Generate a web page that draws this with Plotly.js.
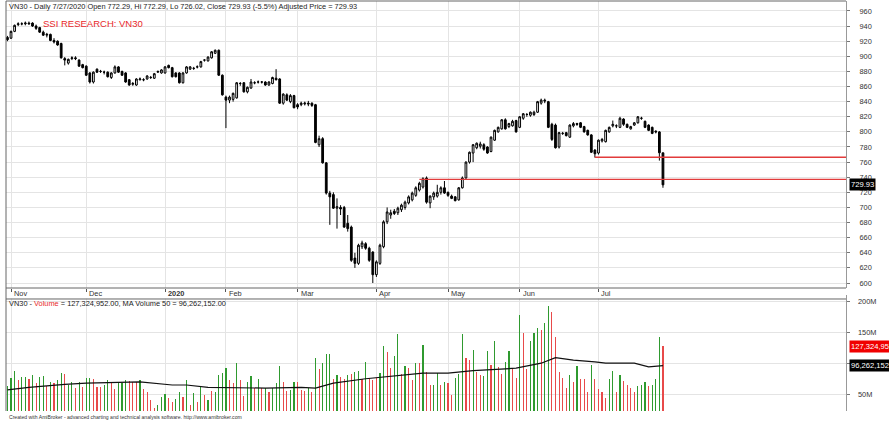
<!DOCTYPE html>
<html><head><meta charset="utf-8">
<script src="https://cdn.plot.ly/plotly-3.0.1.min.js"></script>
<style>html,body{margin:0;padding:0;background:#fff;overflow:hidden}#chart{width:889px;height:423px}</style>
</head><body><div id="chart"></div>
<script>
// ---------- DATA ----------
const tradingDays = {
  '2019-10': [31],
  '2019-11': [1,4,5,6,7,8,11,12,13,14,15,18,19,20,21,22,25,26,27,28,29],
  '2019-12': [2,3,4,5,6,9,10,11,12,13,16,17,18,19,20,23,24,25,26,27,30,31],
  '2020-01': [2,3,6,7,8,9,10,13,14,15,16,17,20,21,22,30,31],
  '2020-02': [3,4,5,6,7,10,11,12,13,14,17,18,19,20,21,24,25,26,27,28],
  '2020-03': [2,3,4,5,6,9,10,11,12,13,16,17,18,19,20,23,24,25,26,27,30,31],
  '2020-04': [1,3,6,7,8,9,10,13,14,15,16,17,20,21,22,23,24,27,28,29],
  '2020-05': [4,5,6,7,8,11,12,13,14,15,18,19,20,21,22,25,26,27,28,29],
  '2020-06': [1,2,3,4,5,8,9,10,11,12,15,16,17,18,19,22,23,24,25,26,29,30],
  '2020-07': [1,2,3,6,7,8,9,10,13,14,15,16,17,20,21,22,23,24,27]
};
const openP = [
 925,924,933,942,943,943,944,944,940,938,932,928,929,921,920,917,897,891,897,898,895,889,
 887,878,866,883,880,879,879,872,878,886,880,878,869,863,862,869,869,870,872,871,879,878,
 878,888,885,878,878,865,878,883,884,886,886,895,894,898,904,908,875,
 846,842,843,845,864,865,853,858,865,866,866,866,862,864,871,870,838,849,840,848,
 836,836,837,838,838,836,783,791,759,719,717,699,700,700,679,674,633,626,648,652,646,641,
 611,626,648,681,690,695,693,697,700,706,710,716,723,727,739,706,714,715,720,726,
 720,715,714,710,726,739,760,772,779,781,783,780,774,789,800,804,816,807,808,815,
 806,818,823,822,823,826,838,842,840,810,809,780,798,799,793,808,811,812,807,802,796,776,
 772,788,787,800,808,808,806,817,810,804,809,812,818,814,809,806,801,800,772.29
];
const highP = [
 927,934,942,945,945,946,946,945,942,939,934,931,930,924,921,918,899,897,900,900,896,890,
 888,879,880,884,882,881,880,879,888,887,881,879,870,866,871,872,871,875,874,878,881,883,
 887,889,886,879,879,879,887,887,886,888,894,896,900,907,909,909,876,
 848,848,852,866,866,866,860,870,867,868,867,867,867,873,883,871,851,851,850,849,
 838,840,840,841,839,837,795,793,760,722,720,712,703,702,690,676,640,652,656,654,648,642,
 630,652,683,700,697,698,701,705,709,716,721,728,734,740,741,716,721,730,728,735,
 721,717,715,727,741,761,774,784,786,787,785,781,794,803,807,817,818,812,816,816,
 821,825,825,827,828,841,844,844,841,812,811,800,800,800,810,813,812,813,808,803,797,777,
 790,792,803,807,815,810,820,818,811,808,813,821,820,815,810,807,802,801,772.29
];
const lowP = [
 920,923,932,940,941,941,942,939,935,931,927,925,920,917,914,897,888,889,895,895,886,884,
 874,864,864,878,878,876,872,870,877,878,874,865,861,861,861,868,867,869,870,870,878,877,
 877,884,872,872,864,864,877,882,882,884,885,893,893,897,903,874,848,
 805,838,840,844,861,852,851,857,863,864,864,861,861,863,868,837,836,841,838,831,
 830,834,835,834,833,785,780,758,717,677,698,672,690,673,668,628,620,624,645,644,628,600,
 608,624,646,678,685,690,690,694,697,704,708,714,721,725,705,699,710,713,717,718,
 714,711,708,709,725,738,758,760,777,778,775,771,773,788,799,803,803,805,807,799,
 805,816,820,820,821,825,836,838,805,788,778,778,796,794,792,806,808,805,799,795,772,766,
 770,786,786,799,806,805,805,808,805,803,808,811,816,805,801,797,798,762,726.02
];
const closeP = [
 922,933,941,943,943,944,943,940,937,932,928,929,921,919,915,898,895,896,898,897,887,885,
 875,866,879,879,880,879,873,878,886,879,875,866,862,864,870,870,869,874,872,877,880,882,
 886,885,873,873,865,878,886,886,884,886,893,895,899,906,908,875,849,
 842,846,851,865,864,853,859,866,865,866,866,862,866,872,869,838,850,842,848,832,
 833,838,838,837,835,786,791,759,719,714,699,701,698,674,672,630,626,650,653,646,630,611,
 628,650,681,694,693,692,699,703,707,714,719,726,732,738,707,715,719,720,726,719,
 716,712,709,726,739,760,773,783,785,784,777,772,793,802,806,816,804,811,814,800,
 820,824,823,826,826,840,842,841,806,790,779,799,798,795,809,811,810,806,800,796,773,771,
 789,790,802,806,810,808,818,810,806,807,812,820,818,806,802,798,800,772.4,729.93
];
// volume, millions
const volumeM = [
 63,77,88,73,78,78,75,81,68,78,79,63,70,68,73,84,83,65,69,60,69,62,
 77,77,75,62,61,65,73,68,58,68,68,73,71,69,69,73,58,53,41,28,33,45,
 50,44,38,42,54,46,73,33,52,37,63,49,41,56,54,81,85,
 92,73,68,100,73,47,70,79,60,74,60,60,54,60,68,95,70,56,57,70,
 70,57,56,60,54,108,91,101,115,115,75,81,78,74,81,83,86,88,74,102,77,73,
 76,85,128,118,92,112,147,83,95,92,73,101,101,129,86,65,65,84,65,70,
 68,49,77,83,147,108,105,122,86,81,80,120,97,136,94,83,102,120,93,77,
 177,148,90,136,148,156,153,164,192,183,142,86,76,60,81,69,95,75,75,54,97,75,
 58,54,44,75,87,53,81,71,65,60,53,64,65,69,64,65,74,142,127.324952
];
const volumeDir =
 "gggrggrgrg"+"grgrggrggr"+"grggrrrggr"+"rgggrrrgrr"+"rrgggrrggr"+"grgrgrgrgg"+
 "ggrrgrrggr"+"grgrgggrrg"+"grrrgrgrgg"+"grgrrgrggr"+"grrrggrrgg"+"rgrrgrgrrg"+"grgr"+
 "rgggrrgrrg"+"grgrrggrrg"+"rrgggrggrr"+"rrrgrgrrrg"+"rrrrggrgrr"+"rrgggrgggr";
// 50-day MA of volume, read at selected bars (bar number, millions)
const maBar = [0,6,16,22,37,40,46,50,56,72,82,86,91,100,110,116,123,130,142,149,153,158,164,167,175,179,183];
const maVolM = [57,61,66,68,70,68,65,65,61,60,61,60,68,75,81,84,84,88,92,100,109,105,102,100,100,94,96.262152];
// horizontal levels drawn on the chart
const levelFrom = ['2020-04-20','2020-06-30'];
const levelValue = [737.2,766.4];
// axis labels
const monthTickDates = ['2019-11-01','2019-12-02','2020-01-02','2020-02-03','2020-03-02','2020-04-01','2020-05-04','2020-06-01','2020-07-01'];
const monthTickText = ['Nov','Dec','<b>2020</b>','Feb','Mar','Apr','May','Jun','Jul'];
const priceTicks = [600,620,640,660,680,700,720,740,760,780,800,820,840,860,880,900,920,940,960];
const volTicks = [50,100,150,200];
const volTickText = ['50M','100M','150M','200M'];
const headerText = 'VN30 - Daily 7/27/2020 Open 772.29, Hi 772.29, Lo 726.02, Close 729.93 (-5.5%) Adjusted Price = 729.93';
const titleText = 'SSI RESEARCH: VN30';
const volHeader = 'VN30 - <span style="color:#e8282a">Volume</span> = 127,324,952.00, MA Volume 50 = 96,262,152.00';
const creditText = 'Created with AmiBroker - advanced charting and technical analysis software. http://www.amibroker.com';

// ---------- BUILD ----------
const dates = [];
Object.keys(tradingDays).forEach(m => tradingDays[m].forEach(d => dates.push(m + '-' + String(d).padStart(2,'0'))));
const idx = dates.map((d,i)=>i);
const last = dates.length - 1;
const xMax = 234.1, xMin = -0.4;
const FONT = 'Liberation Sans, Arial, sans-serif';
const FS = 7.4;
const GREEN = '#2f9a2f', RED = '#e84a4a';
const VOL_RANGE = [23.15, 210], VOL_DOMAIN = [0, 0.2834];

const traces = [];
traces.push({
  type:'candlestick', x: idx, open: openP, high: highP, low: lowP, close: closeP,
  xaxis:'x', yaxis:'y', whiskerwidth:0,
  increasing:{line:{color:'#000',width:1}, fillcolor:'#ffffff'},
  decreasing:{line:{color:'#000',width:1}, fillcolor:'#000000'},
  hoverinfo:'skip', showlegend:false
});
levelFrom.forEach((d,k)=>{
  traces.push({type:'scatter', mode:'lines', x:[dates.indexOf(d), xMax], y:[levelValue[k], levelValue[k]],
    xaxis:'x', yaxis:'y', line:{color:'#e23b3b', width:1.3}, hoverinfo:'skip', showlegend:false});
});
traces.push({
  type:'bar', x: idx, y: volumeM, xaxis:'x2', yaxis:'y2', width:0.32,
  marker:{color: volumeDir.split('').map(c=> c==='g'?GREEN:RED), line:{width:0}},
  hoverinfo:'skip', showlegend:false
});
traces.push({type:'scatter', mode:'lines', x: maBar, y: maVolM, xaxis:'x2', yaxis:'y2',
  line:{color:'#111', width:1.2}, hoverinfo:'skip', showlegend:false});

const tickIdx = monthTickDates.map(d=>dates.indexOf(d));
const annotations = [];
tickIdx.forEach((ti,k)=>annotations.push({x:ti, y:0.2878, xref:'x', yref:'paper', text:monthTickText[k],
  showarrow:false, xanchor:'left', yanchor:'middle', xshift:1, font:{family:FONT,size:FS,color:'#333'}}));
// volume axis labels, placed on the paper at the value's height on the volume scale
volTicks.forEach((v,k)=>{
  const frac = VOL_DOMAIN[0] + (v - VOL_RANGE[0]) / (VOL_RANGE[1] - VOL_RANGE[0]) * (VOL_DOMAIN[1] - VOL_DOMAIN[0]);
  annotations.push({x:1, y:frac, xref:'paper', yref:'paper', text:volTickText[k], showarrow:false,
    xanchor:'left', yanchor:'middle', xshift:10, font:{family:FONT,size:FS,color:'#333'}});
});
annotations.push({x:0, y:0.9878, xref:'paper', yref:'paper', text:headerText, showarrow:false,
  xanchor:'left', yanchor:'middle', xshift:1, font:{family:FONT,size:FS,color:'#222'}});
annotations.push({x:0, y:0.946, xref:'paper', yref:'paper', text:titleText, showarrow:false,
  xanchor:'left', yanchor:'middle', xshift:35, font:{family:FONT,size:9.5,color:'#e8282a'}});
annotations.push({x:0, y:0.2622, xref:'paper', yref:'paper', text:volHeader, showarrow:false,
  xanchor:'left', yanchor:'middle', xshift:1, font:{family:FONT,size:FS,color:'#222'}});
annotations.push({x:0, y:-0.0146, xref:'paper', yref:'paper', text:creditText, showarrow:false,
  xanchor:'left', yanchor:'middle', xshift:1, font:{family:FONT,size:5.1,color:'#333'}});
annotations.push({x:1, y:closeP[last], xref:'paper', yref:'y', text:closeP[last].toFixed(2), showarrow:false,
  xanchor:'left', yanchor:'middle', xshift:3, bgcolor:'#000', borderpad:1, font:{family:FONT,size:7.6,color:'#fff'}});
annotations.push({x:1, y:volumeM[last], xref:'paper', yref:'y2', text:Math.round(volumeM[last]*1e6).toLocaleString('en-US'), showarrow:false,
  xanchor:'left', yanchor:'middle', xshift:3, bgcolor:'#f00000', borderpad:1, font:{family:FONT,size:7.6,color:'#fff'}});
annotations.push({x:1, y:maVolM[maVolM.length-1], xref:'paper', yref:'y2', text:Math.round(maVolM[maVolM.length-1]*1e6).toLocaleString('en-US'), showarrow:false,
  xanchor:'left', yanchor:'middle', xshift:3, bgcolor:'#000', borderpad:1, font:{family:FONT,size:7.6,color:'#fff'}});

const shapes = [
  {type:'rect', xref:'paper', yref:'paper', x0:0.001, x1:0.999, y0:0.2745, y1:0.2836, fillcolor:'#fff', line:{width:0}, layer:'above'},
  {type:'line', xref:'paper', yref:'paper', x0:0, x1:1, y0:0.3, y1:0.3, line:{color:'#666',width:1}},
  {type:'line', xref:'paper', yref:'paper', x0:0, x1:1, y0:0.2732, y1:0.2732, line:{color:'#666',width:1}},
  {type:'line', xref:'paper', yref:'paper', x0:0, x1:0, y0:0, y1:1, line:{color:'#666',width:1}},
  {type:'line', xref:'paper', yref:'paper', x0:0, x1:1, y0:1, y1:1, line:{color:'#666',width:1}}
];

const layout = {
  width:889, height:423, paper_bgcolor:'#fff', plot_bgcolor:'#fff',
  margin:{l:6, r:43, t:1, b:12}, showlegend:false, dragmode:false, bargap:0,
  font:{family:FONT, size:FS, color:'#333'},
  xaxis:{domain:[0,1], anchor:'y', range:[xMin,xMax], tickvals:tickIdx, showticklabels:false,
    ticks:'outside', ticklen:3, tickcolor:'#555', showgrid:true, gridcolor:'#e4e4e4', gridwidth:1,
    zeroline:false, showline:false, rangeslider:{visible:false}, fixedrange:true},
  xaxis2:{domain:[0,1], anchor:'y2', range:[xMin,xMax], tickvals:tickIdx, showticklabels:false,
    ticks:'', showgrid:true, gridcolor:'#e4e4e4', zeroline:false, showline:false, fixedrange:true},
  yaxis:{domain:[0.3,1], range:[593.4,973.2], side:'right', tickvals:priceTicks, ticks:'outside', ticklen:3,
    tickcolor:'#777', showline:true, linecolor:'#999', linewidth:1, showgrid:true, gridcolor:'#e4e4e4',
    zeroline:false, tickfont:{family:FONT,size:FS,color:'#333'}, ticklabelstandoff:8, fixedrange:true},
  yaxis2:{domain:VOL_DOMAIN, range:VOL_RANGE, side:'right', anchor:'x2', tickvals:volTicks, showticklabels:false,
    ticks:'outside', ticklen:3, tickcolor:'#777', showline:true, linecolor:'#999', linewidth:1,
    showgrid:true, gridcolor:'#e4e4e4', zeroline:false, fixedrange:true},
  annotations: annotations, shapes: shapes
};
Plotly.newPlot('chart', traces, layout, {displayModeBar:false, staticPlot:true});
</script></body></html>
